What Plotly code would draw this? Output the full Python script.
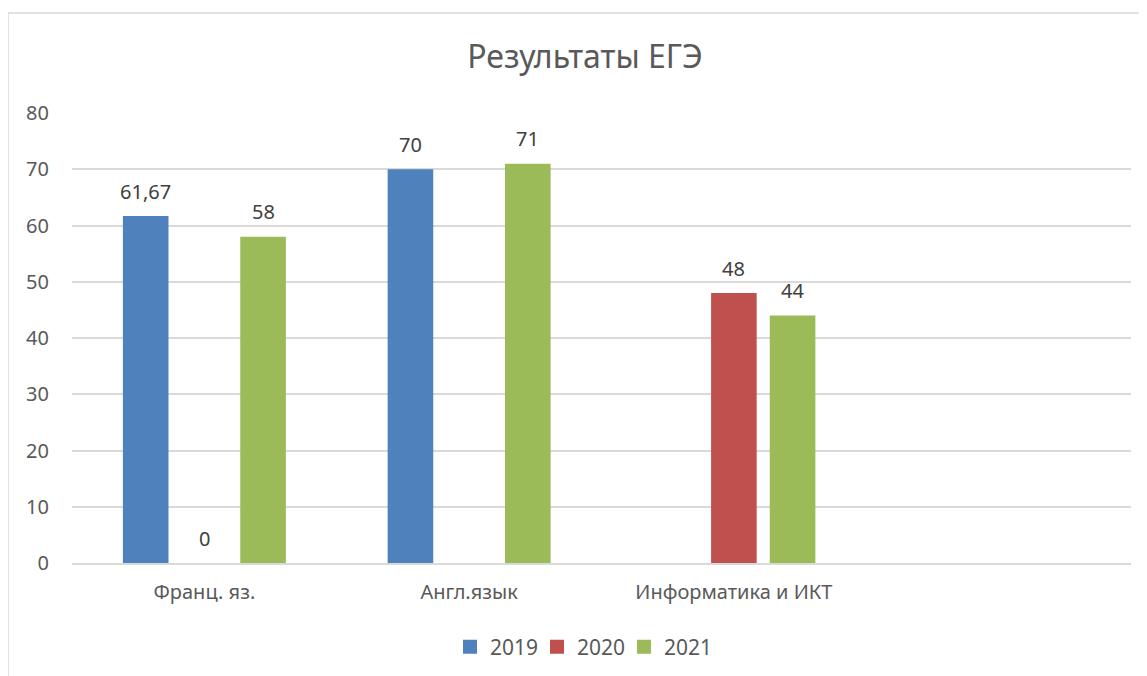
import plotly.graph_objects as go

# ── Data ──────────────────────────────────────────────────────────────────────
SUBJECTS = ["Франц. яз.", "Англ.язык", "Информатика и ИКТ"]
YEARS = ["2019", "2020", "2021"]
SCORES_2019 = [61.67, 70, None]
SCORES_2020 = [0, None, 48]
SCORES_2021 = [58, 71, 44]

# ── Palette ───────────────────────────────────────────────────────────────────
BLUE = "#4F81BD"
RED = "#C0504D"
GREEN = "#9BBB59"
TEXT_MAIN = "#404040"
TEXT_MUTED = "#595959"
GRID = "#D9D9D9"
FONT = "Noto Sans, sans-serif"

# plot area geometry (page has 8px body margin)
PLOT_W, PLOT_H = 1059, 450
BARGAP, GROUPGAP = 0.335, 0.223
N_CATS = 4  # Excel keeps an empty 4th slot on the right
SLOT = (1 - BARGAP) * PLOT_W / N_CATS / len(YEARS)


def _label(v):
    return f"{v:g}".replace(".", ",")


fig = go.Figure()
for i, (name, vals, color) in enumerate(zip(YEARS, [SCORES_2019, SCORES_2020, SCORES_2021],
                                            [BLUE, RED, GREEN])):
    fig.add_trace(go.Bar(
        x=SUBJECTS, y=vals, name=name, legendgroup=name, showlegend=False,
        marker=dict(color=color, line=dict(width=0)),
    ))
    # legend-only proxy so the key squares are Excel-sized
    fig.add_trace(go.Scatter(
        x=[None], y=[None], name=name, legendgroup=name, mode="markers",
        marker=dict(symbol="square", size=14, color=color),
    ))
    # data labels, lifted a bit more than plotly's default "outside" padding
    for subj, v in zip(SUBJECTS, vals):
        if v is None:
            continue
        fig.add_annotation(x=subj, y=v, text=_label(v), showarrow=False,
                           xshift=(i - 1) * SLOT, yshift=25, yanchor="middle",
                           font=dict(size=20, color=TEXT_MAIN, family=FONT))

# outer chart border (Excel-style frame)
fig.add_shape(type="rect", xref="paper", yref="paper",
              x0=(8 - 72) / PLOT_W, x1=1.03, y0=-0.3, y1=(563 - 13) / PLOT_H,
              line=dict(color="#D9D9D9", width=1.5), fillcolor="rgba(0,0,0,0)")

fig.update_layout(
    width=1147, height=676,
    margin=dict(l=64, r=24, t=105, b=121),
    paper_bgcolor="white", plot_bgcolor="white",
    font=dict(family=FONT, color=TEXT_MUTED, size=20),
    title=dict(text="Результаты ЕГЭ", x=(585 - 8) / 1147, xanchor="center",
               y=1 - 49 / 676, yanchor="middle",
               font=dict(size=32, color=TEXT_MUTED, family=FONT)),
    barmode="group", bargap=BARGAP, bargroupgap=GROUPGAP,
    legend=dict(orientation="h", x=(450 - 72) / PLOT_W, xanchor="left",
                y=(563 - 647) / PLOT_H, yanchor="middle",
                font=dict(size=21, color=TEXT_MUTED, family=FONT),
                itemwidth=30, tracegroupgap=0,
                entrywidth=42, entrywidthmode="pixels"),
    showlegend=True,
)
fig.update_xaxes(type="category", range=[-0.5, N_CATS - 0.5], showgrid=False,
                 showline=True, linecolor=GRID, linewidth=1.5,
                 ticks="", ticklabelstandoff=10,
                 tickfont=dict(size=20, color=TEXT_MUTED, family=FONT))
fig.update_yaxes(range=[0, 80], dtick=10, showgrid=True, gridcolor=GRID, gridwidth=1.5,
                 zeroline=False, showline=False, ticks="", ticklabelstandoff=22,
                 tickfont=dict(size=20, color=TEXT_MUTED, family=FONT))

fig.write_html("out.html")
